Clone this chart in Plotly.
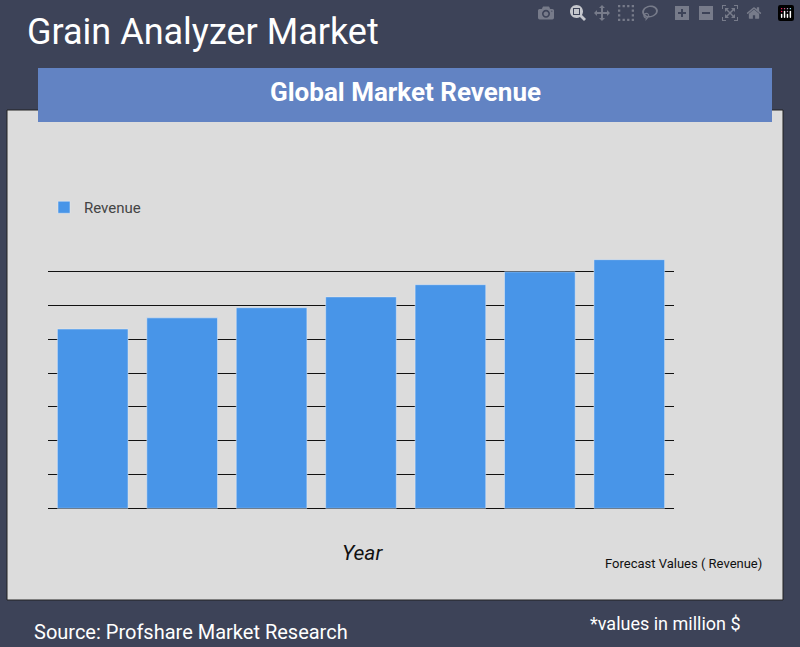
import plotly.graph_objects as go

W, H = 800, 647

years = ["2023", "2024", "2025", "2026", "2027", "2028", "2029"]
revenue = [5.3, 5.63, 5.93, 6.25, 6.61, 6.99, 7.35]


def px_x(p):
    return p / W


def px_y(p):
    return 1 - p / H


fig = go.Figure()
fig.add_trace(go.Bar(x=years, y=revenue, name="Revenue", marker_color="#4895e8"))

fig.update_layout(
    width=W,
    height=H,
    margin=dict(l=0, r=0, t=0, b=0),
    paper_bgcolor="#3d4358",
    plot_bgcolor="rgba(0,0,0,0)",
    font=dict(family="Roboto", color="#333333"),
    bargap=0.21,
    showlegend=True,
    legend=dict(
        x=px_x(44), y=px_y(191), xanchor="left", yanchor="top",
        bgcolor="rgba(0,0,0,0)", font=dict(size=15, color="#444444"),
    ),
    xaxis=dict(domain=[px_x(48), px_x(674)], showticklabels=False, showgrid=False,
               zeroline=False, showline=False),
    yaxis=dict(domain=[px_y(509), px_y(237)], range=[-0.02, 8.02], dtick=1,
               tick0=0, showticklabels=False, showgrid=True, gridcolor="#111111",
               gridwidth=1, zeroline=True, zerolinecolor="#111111", zerolinewidth=1),
)

# grey panel and banner
fig.add_shape(type="rect", xref="paper", yref="paper", layer="below",
              x0=px_x(7), x1=px_x(783), y0=px_y(600), y1=px_y(110),
              fillcolor="#dcdcdc", line=dict(color="#222222", width=1))
fig.add_shape(type="rect", xref="paper", yref="paper",
              x0=px_x(38), x1=px_x(772), y0=px_y(122), y1=px_y(68),
              fillcolor="#6283c3", line=dict(width=0))

texts = [
    ("Grain Analyzer Market", 25, 32, 36, "white", "left", False),
    ("<b>Global Market Revenue</b>", 405, 92, 26, "white", "center", False),
    ("Year", 362, 553, 21, "#111111", "center", True),
    ("Forecast Values ( Revenue)", 683, 563, 13, "#111111", "center", False),
    ("*values in million $", 665, 623, 18, "white", "center", False),
    ("Source: Profshare Market Research", 32, 632, 20, "white", "left", False),
]
for txt, x, y, size, color, anchor, italic in texts:
    fig.add_annotation(
        text=f"<i>{txt}</i>" if italic else txt,
        x=px_x(x), y=px_y(y), xref="paper", yref="paper",
        xanchor=anchor, yanchor="middle", showarrow=False,
        font=dict(size=size, color=color, family="Roboto"),
    )

fig.write_html("out.html", post_script="document.body.style.margin='0';")
